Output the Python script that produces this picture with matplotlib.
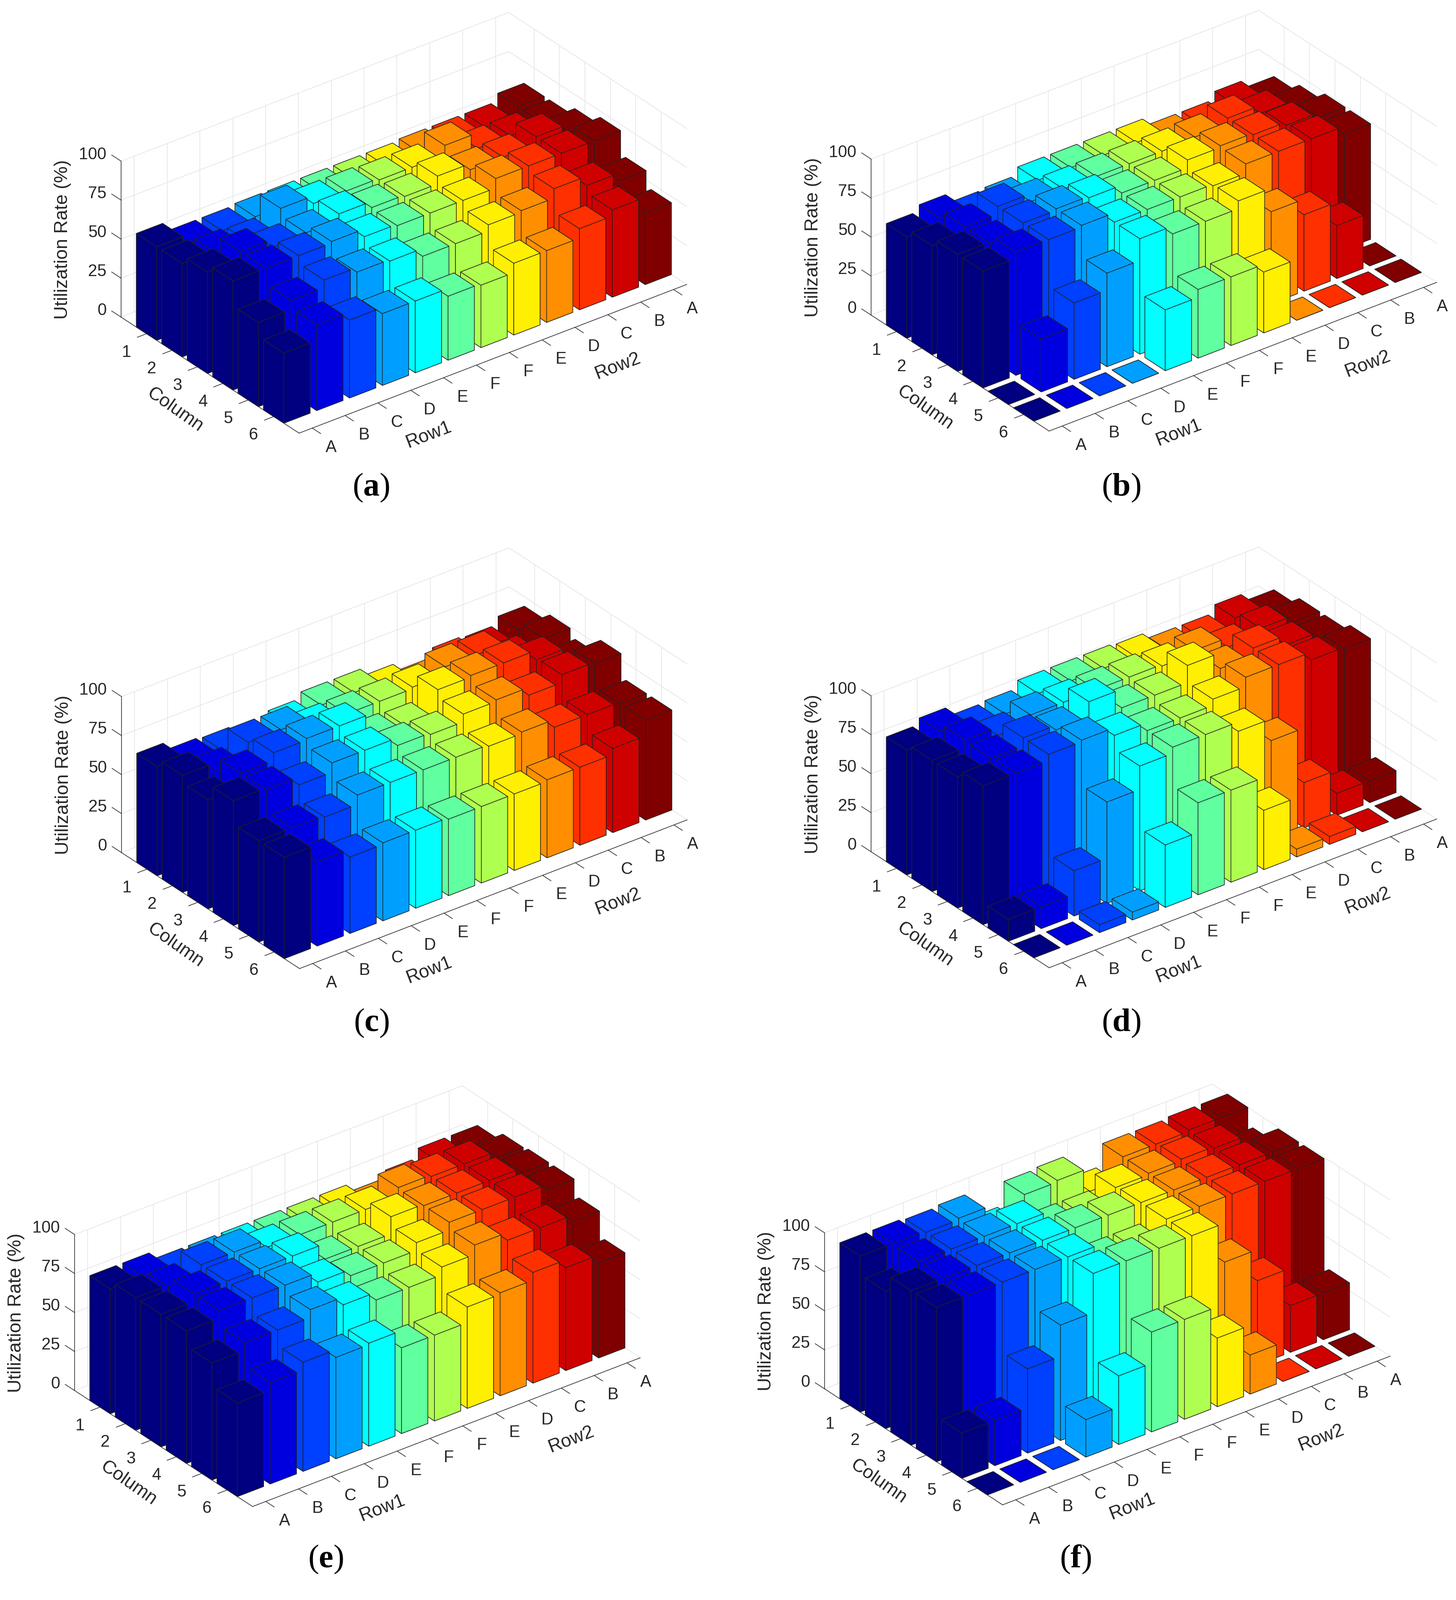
import matplotlib
matplotlib.use("Agg")
import matplotlib.pyplot as plt
from mpl_toolkits.mplot3d import proj3d

plt.rcParams["font.family"] = ["Liberation Sans", "DejaVu Sans"]
plt.rcParams["mathtext.fontset"] = "custom"
plt.rcParams["mathtext.rm"] = "Liberation Serif"
plt.rcParams["mathtext.bf"] = "Liberation Serif:bold"

WIDTH, HEIGHT = 3475, 3819
DPI = 100

columns = [1, 2, 3, 4, 5, 6]
row_labels = ["A", "B", "C", "D", "E", "F", "F", "E", "D", "C", "B", "A"]
z_ticks = [0, 25, 50, 75, 100]
row_colours = [
    "#000080", "#0000DF", "#0040FF", "#009FFF", "#00FFFF", "#60FF9F",
    "#AFFF50", "#FFEF00", "#FF8F00", "#FF3000", "#CF0000", "#800000",
]

# utilization per row (front to back), one value per column
panel_a = [
    [60, 60, 65, 70, 54, 45],
    [54, 59, 70, 70, 60, 55],
    [54, 58, 65, 70, 65, 50],
    [55, 71, 66, 71, 62, 46],
    [55, 66, 70, 66, 61, 46],
    [55, 66, 66, 65, 56, 41],
    [55, 65, 65, 65, 56, 40],
    [55, 65, 70, 65, 60, 46],
    [56, 71, 66, 71, 61, 46],
    [56, 61, 66, 71, 67, 52],
    [56, 61, 71, 71, 61, 56],
    [61, 61, 66, 71, 56, 46],
]
panel_b = [
    [65, 70, 75, 75, 0, 0],
    [69, 74, 74, 79, 34, 0],
    [63, 79, 79, 79, 49, 0],
    [64, 74, 80, 80, 60, 0],
    [69, 74, 79, 74, 74, 39],
    [69, 74, 74, 74, 69, 44],
    [69, 74, 74, 74, 69, 44],
    [69, 74, 79, 73, 74, 39],
    [64, 75, 80, 79, 59, 0],
    [64, 79, 79, 79, 49, 0],
    [69, 74, 77, 79, 34, 0],
    [64, 69, 74, 74, 0, 0],
]
panel_c = [
    [70, 75, 70, 80, 65, 65],
    [65, 70, 79, 79, 65, 54],
    [64, 80, 84, 74, 64, 49],
    [59, 80, 85, 80, 70, 50],
    [65, 74, 85, 80, 70, 50],
    [69, 74, 70, 75, 70, 49],
    [69, 74, 69, 74, 70, 49],
    [64, 75, 84, 79, 69, 49],
    [59, 80, 85, 80, 70, 50],
    [65, 80, 85, 75, 65, 50],
    [64, 69, 79, 80, 65, 54],
    [69, 74, 69, 79, 64, 64],
]
panel_d = [
    [80, 84, 84, 89, 14, 0],
    [84, 89, 88, 89, 14, 0],
    [78, 84, 93, 93, 29, 5],
    [79, 89, 90, 94, 65, 5],
    [84, 89, 100, 89, 80, 40],
    [84, 89, 88, 84, 84, 59],
    [84, 89, 88, 84, 84, 59],
    [83, 88, 99, 88, 78, 38],
    [79, 90, 89, 94, 64, 5],
    [79, 84, 94, 94, 29, 5],
    [84, 88, 88, 89, 14, 0],
    [79, 84, 84, 88, 14, 0],
]
panel_e = [
    [80, 85, 85, 85, 75, 60],
    [80, 84, 90, 90, 80, 65],
    [75, 90, 90, 90, 80, 70],
    [75, 90, 90, 90, 85, 65],
    [75, 85, 90, 84, 80, 66],
    [75, 85, 80, 80, 75, 55],
    [75, 85, 80, 80, 75, 55],
    [75, 85, 91, 85, 80, 65],
    [70, 91, 90, 90, 86, 66],
    [75, 90, 90, 90, 81, 71],
    [81, 90, 90, 90, 81, 66],
    [81, 86, 87, 87, 77, 61],
]
panel_f = [
    [100, 88, 99, 99, 29, 0],
    [100, 99, 99, 99, 29, 0],
    [99, 99, 99, 99, 54, 0],
    [100, 99, 99, 99, 74, 24],
    [84, 99, 99, 99, 99, 44],
    [99, 89, 99, 89, 99, 64],
    [100, 89, 99, 89, 99, 64],
    [85, 98, 99, 99, 99, 44],
    [99, 99, 99, 99, 74, 25],
    [99, 100, 99, 99, 54, 0],
    [100, 99, 99, 99, 30, 0],
    [100, 89, 99, 99, 30, 0],
]

# caption letter, values, left floor corner in px, caption centre in px
panels = [
    ("a", panel_a, (289, 757), (886, 1164)),
    ("b", panel_b, (2079, 752), (2676, 1164)),
    ("c", panel_c, (290, 2035), (886, 2442)),
    ("d", panel_d, (2079, 2033), (2676, 2442)),
    ("e", panel_e, (178, 3319), (777, 3722)),
    ("f", panel_f, (1968, 3315), (2567, 3722)),
]

XLIM = (0, 7)
YLIM = (0.6, 12.4)
ZLIM = (0, 100)
BAR = 0.8
BOX = (698, 1166, 430)
# px from the left floor corner to the back floor corner
CORNER_SPAN = 925

GRID = "#e4e4e4"
INK = "#262626"
EDGE = "#202020"
TICK_SIZE = 28.5
LABEL_SIZE = 32


def project(ax, x, y, z):
    xs, ys, _ = proj3d.proj_transform(x, y, z, ax.get_proj())
    return ax.transData.transform((xs, ys))


def place(ax, corner):
    # fit the box to the wanted size, then move the axes onto the left corner
    zoom = 1.0
    for _ in range(3):
        ax.set_box_aspect(BOX, zoom=zoom)
        ax.apply_aspect()
        left = project(ax, XLIM[0], YLIM[0], 0)
        right = project(ax, XLIM[0], YLIM[1], 0)
        zoom *= CORNER_SPAN / (right[0] - left[0])
    ax.set_box_aspect(BOX, zoom=zoom)
    ax.apply_aspect()
    left = project(ax, XLIM[0], YLIM[0], 0)
    pos = ax.get_position(original=True)
    ax.set_position(
        [
            pos.x0 + (corner[0] - left[0]) / WIDTH,
            pos.y0 + (HEIGHT - corner[1] - left[1]) / HEIGHT,
            pos.width,
            pos.height,
        ]
    )
    ax.apply_aspect()


def label(fig, ax, point, offset, text, size=TICK_SIZE, ha="center", rotation=0):
    # Text3D ignores rotation, so the text goes on the figure at the projected point
    px = project(ax, *point)
    fig.text(
        (px[0] + offset[0]) / WIDTH,
        (px[1] - offset[1]) / HEIGHT,
        text,
        fontsize=size,
        color=INK,
        ha=ha,
        va="center",
        rotation=rotation,
        rotation_mode="anchor",
    )


def draw_panel(fig, values, corner):
    size = 2500
    ax = fig.add_axes(
        [0.1, 0.1, size / WIDTH, size / HEIGHT],
        projection="3d",
        computed_zorder=False,
    )
    ax.set_proj_type("ortho")
    ax.view_init(elev=30, azim=-37.5)
    ax.set_facecolor("none")
    ax.set_axis_off()

    # walls
    for z in z_ticks:
        ax.plot([0, 0], YLIM, [z, z], color=GRID, lw=1.1, zorder=1)
        ax.plot(XLIM, [YLIM[1], YLIM[1]], [z, z], color=GRID, lw=1.1, zorder=1)
    for r in range(1, len(row_labels) + 1):
        ax.plot([0, 0], [r, r], ZLIM, color=GRID, lw=1.1, zorder=1)
    for c in columns:
        ax.plot([c, c], [YLIM[1], YLIM[1]], ZLIM, color=GRID, lw=1.1, zorder=1)

    # axis lines and ticks
    ax.plot([0, 0], [YLIM[0], YLIM[0]], ZLIM, color=INK, lw=1.1, zorder=2)
    ax.plot(XLIM, [YLIM[0], YLIM[0]], [0, 0], color=INK, lw=1.1, zorder=2)
    ax.plot([XLIM[1], XLIM[1]], YLIM, [0, 0], color=INK, lw=1.1, zorder=2)
    for c in columns:
        ax.plot([c, c], [YLIM[0], YLIM[0] - 0.28], [0, 0], color=INK, lw=1.1, zorder=2)
    for r in range(1, len(row_labels) + 1):
        ax.plot([XLIM[1], XLIM[1] + 0.33], [r, r], [0, 0], color=INK, lw=1.1, zorder=2)
    for z in z_ticks:
        ax.plot([0, -0.37], [YLIM[0], YLIM[0]], [z, z], color=INK, lw=1.1, zorder=2)

    # bars, painted back to front
    order = 10
    for r in range(len(row_labels), 0, -1):
        for c in columns:
            poly = ax.bar3d(
                c - BAR / 2, r - BAR / 2, 0, BAR, BAR, values[r - 1][c - 1],
                color=row_colours[r - 1], shade=False, edgecolor=EDGE, linewidth=1.0,
            )
            poly.set_zorder(order)
            order += 1

    ax.set_xlim(*XLIM, view_margin=0)
    ax.set_ylim(*YLIM, view_margin=0)
    ax.set_zlim(*ZLIM, view_margin=0)
    place(ax, corner)

    for c in columns:
        label(fig, ax, (c, YLIM[0], 0), (-48, 44), str(c))
    for r, name in enumerate(row_labels, start=1):
        label(fig, ax, (XLIM[1], r, 0), (45, 46), name)
    for z in z_ticks:
        label(fig, ax, (0, YLIM[0], z), (-35, -16), str(z), ha="right")

    left_corner = (XLIM[0], YLIM[0], 0)
    front_corner = (XLIM[1], YLIM[0], 0)
    label(fig, ax, left_corner, (-139, -185), "Utilization Rate (%)", LABEL_SIZE, rotation=90)
    label(fig, ax, left_corner, (129, 222), "Column", LABEL_SIZE, rotation=-35)
    label(fig, ax, front_corner, (309, 4), "Row1", LABEL_SIZE, rotation=21)
    label(fig, ax, front_corner, (760, -160), "Row2", LABEL_SIZE, rotation=21)
    return ax


fig = plt.figure(figsize=(WIDTH / DPI, HEIGHT / DPI), dpi=DPI)

for letter, values, corner, caption_pos in panels:
    draw_panel(fig, values, corner)
    fig.text(
        caption_pos[0] / WIDTH,
        1 - caption_pos[1] / HEIGHT,
        "(" + r"$\mathbf{" + letter + "}$" + ")",
        family=["Liberation Serif", "DejaVu Serif"],
        fontsize=56,
        color="black",
        ha="center",
        va="center",
    )

fig.savefig("out.png", dpi=DPI)
